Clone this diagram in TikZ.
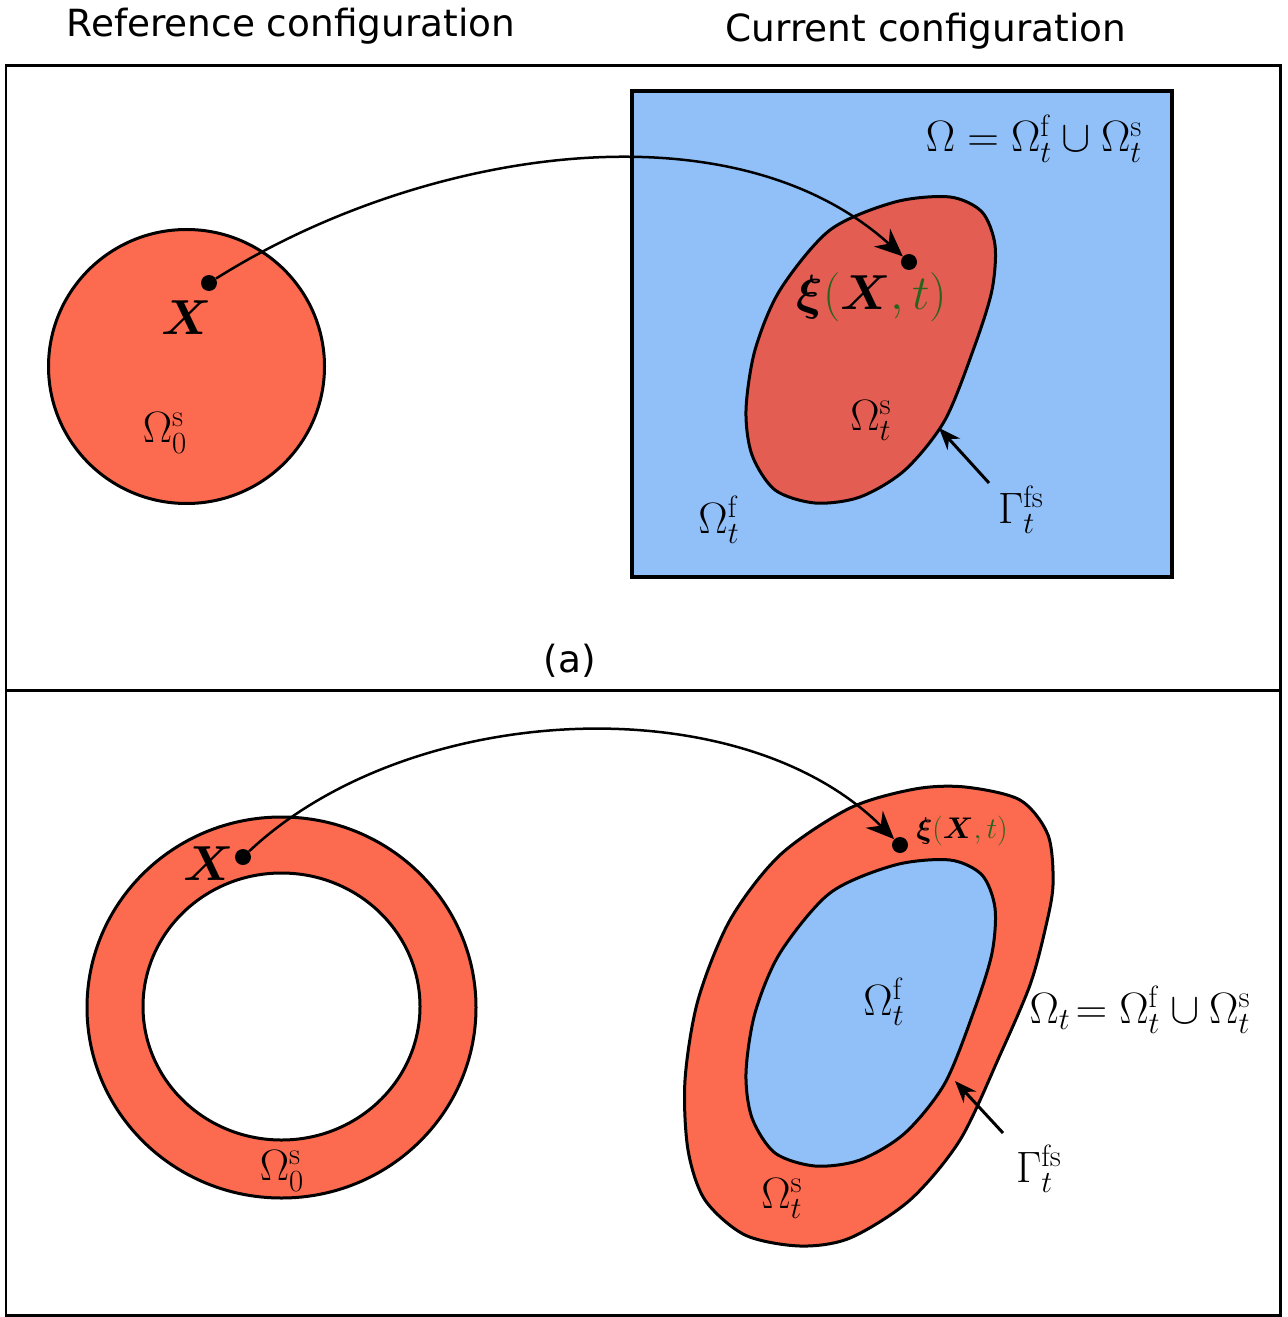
\documentclass[tikz,border=0pt]{standalone}
\usepackage{fix-cm}
\usepackage{amsmath}
\usepackage{fontspec}
\setsansfont{DejaVu Sans}
\usetikzlibrary{arrows.meta}
\definecolor{redA}{RGB}{252,106,80}
\definecolor{redB}{RGB}{228,93,83}
\definecolor{blueA}{RGB}{145,192,249}
\definecolor{greenA}{RGB}{40,100,30}
\begin{document}
\begin{tikzpicture}[x=0.02cm,y=-0.02cm,
  frame/.style={line width=0.06cm},
  outline/.style={draw=black, line width=0.06cm},
  dot/.style={circle, fill=black, inner sep=0pt, minimum size=0.32cm},
  lab/.style={anchor=base, inner sep=0pt, font=\fontsize{25}{30}\selectfont},
  biglab/.style={anchor=base, inner sep=0pt, font=\fontsize{28}{34}\selectfont},
  smalllab/.style={anchor=base, inner sep=0pt, font=\fontsize{17}{20}\selectfont},
  ttl/.style={anchor=base, inner sep=0pt, font=\sffamily\fontsize{21.3}{25}\selectfont},
  maparrow/.style={line width=0.05cm, -{Stealth[length=0.56cm,width=0.48cm]}},
  ptr/.style={line width=0.06cm, -{Stealth[length=0.44cm,width=0.34cm]}}]
\useasboundingbox (0,0) rectangle (1287,1317);
% titles
\node[ttl] (tref) at (291,37) {Reference configuration};
\node[ttl] (tcur) at (926,42) {Current configuration};
% frames
\draw[frame] (6,66) rectangle (1280,690);
\draw[frame] (6,690) rectangle (1280,1315);
\node[ttl] (lba) at (570,672) {(a)};
% ---------- top panel ----------
\draw[line width=0.08cm, fill=blueA] (632,91) rectangle (1172,577);
\draw[outline, fill=redA] (186.5,366.5) ellipse [x radius=138, y radius=137];
\draw[outline, fill=redB] plot[smooth cycle] coordinates {(950,197) (982,212) (995,245) (992,290) (975,345) (945,420) (905,470) (860,497) (815,503) (775,490) (752,455) (746,410) (755,350) (780,290) (830,230) (895,202)};
\node[dot] (dA) at (209,283) {};
\node[dot] (dB) at (909,262) {};
\draw[maparrow] (dA) .. controls (420,150) and (730,100) .. (dB);
\node[biglab] (XA) at (187,335) {$\boldsymbol{X}$};
\node[lab] (O0A) at (165,442) {$\Omega^{\mathrm{s}}_0$};
\node[biglab] (xiA) at (872,310) {$\boldsymbol{\xi}{\color{greenA}(}\boldsymbol{X}{\color{greenA},t)}$};
\node[lab] (OsA) at (871,430) {$\Omega^{\mathrm{s}}_t$};
\node[lab] (OfA) at (719,533) {$\Omega^{\mathrm{f}}_t$};
\node[lab] (GA) at (1021,523) {$\Gamma^{\mathrm{fs}}_t$};
\node[lab] (OmA) at (1034,152) {$\Omega = \Omega^{\mathrm{f}}_t \cup \Omega^{\mathrm{s}}_t$};
\coordinate (gAs) at (989,483);
\coordinate (gAe) at (939,428);
\draw[ptr] (gAs) -- (gAe);
% ---------- bottom panel ----------
\fill[redA, even odd rule] (281.5,1007.5) ellipse [x radius=194.5, y radius=190.5]
  (281.5,1006.5) ellipse [x radius=138.5, y radius=133.5];
\draw[outline] (281.5,1007.5) ellipse [x radius=194.5, y radius=190.5];
\draw[outline, fill=white] (281.5,1006.5) ellipse [x radius=138.5, y radius=133.5];
\draw[outline, fill=redA] plot[smooth cycle] coordinates {(965,787) (1020,800) (1048,835) (1053,885) (1045,930) (1030,985) (1000,1055) (960,1140) (910,1200) (850,1238) (800,1246) (745,1235) (705,1200) (688,1150) (685,1080) (698,1000) (730,920) (780,855) (850,808) (915,789)};
\begin{scope}[shift={(0,663)}]
\draw[outline, fill=blueA] plot[smooth cycle] coordinates {(950,197) (982,212) (995,245) (992,290) (975,345) (945,420) (905,470) (860,497) (815,503) (775,490) (752,455) (746,410) (755,350) (780,290) (830,230) (895,202)};
\end{scope}
\node[dot] (dC) at (243,857) {};
\node[dot] (dD) at (900,845) {};
\draw[maparrow] (dC) .. controls (410,700) and (740,685) .. (dD);
\node[biglab] (XC) at (209,880) {$\boldsymbol{X}$};
\node[smalllab] (xiD) at (962,838) {$\boldsymbol{\xi}{\color{greenA}(}\boldsymbol{X}{\color{greenA},t)}$};
\node[lab] (O0C) at (282,1180) {$\Omega^{\mathrm{s}}_0$};
\node[lab] (OfD) at (884,1015) {$\Omega^{\mathrm{f}}_t$};
\node[lab] (OsD) at (782,1208) {$\Omega^{\mathrm{s}}_t$};
\node[lab] (GD) at (1039,1182) {$\Gamma^{\mathrm{fs}}_t$};
\node[lab] (OmD) at (1140,1023) {$\Omega_t\!=\Omega^{\mathrm{f}}_t \cup \Omega^{\mathrm{s}}_t$};
\coordinate (gDs) at (1003,1133);
\coordinate (gDe) at (955,1081);
\draw[ptr] (gDs) -- (gDe);
\end{tikzpicture}
\end{document}
